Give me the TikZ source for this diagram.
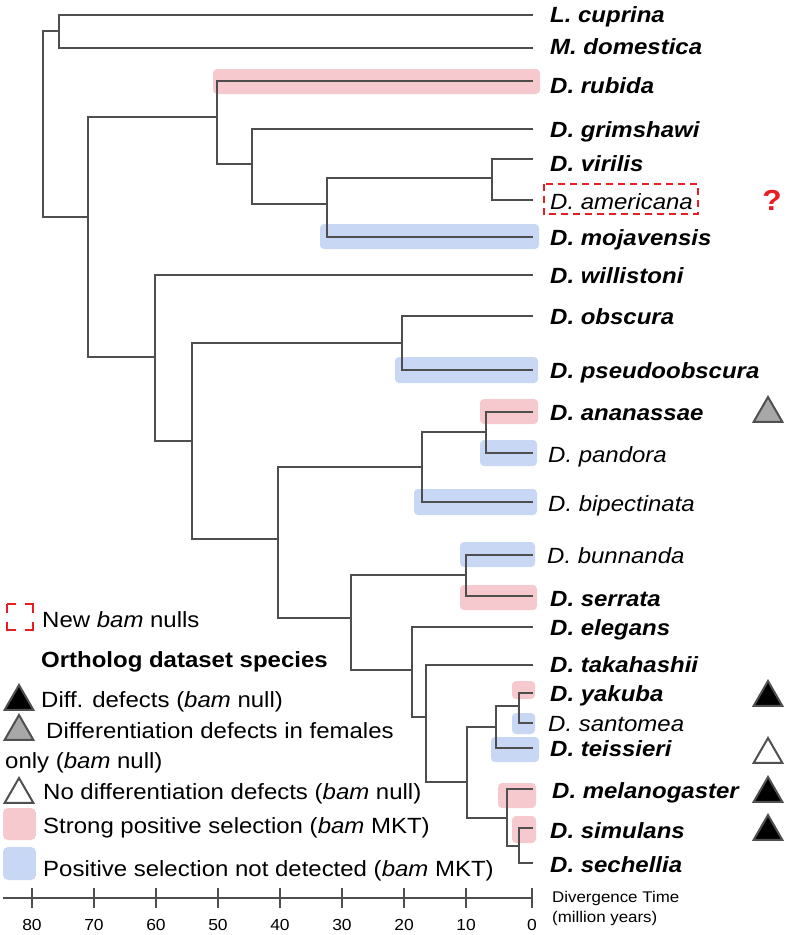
\documentclass[tikz,border=0pt]{standalone}
\usepackage{fontspec}
\setmainfont[FakeStretch=1.09]{Liberation Sans}
\usepackage{xcolor}
\usepackage{tikz}
\usetikzlibrary{shapes.geometric, positioning, calc}
\definecolor{branchgray}{RGB}{78, 78, 78}
\definecolor{strongpink}{RGB}{245, 201, 205}
\definecolor{nodetblue}{RGB}{200, 216, 244}
\definecolor{nullred}{RGB}{232, 30, 36}
\definecolor{trigray}{RGB}{168, 168, 168}
\definecolor{triedge}{RGB}{80, 80, 80}

\begin{document}
\begin{tikzpicture}[
    x=1pt, y=-1pt,
    branch/.style={draw=branchgray, line width=2.8pt},
    axisline/.style={draw=branchgray, line width=2.2pt},
    sp/.style={anchor=base west, inner sep=0pt,
               font=\fontsize{22}{24}\selectfont\bfseries\itshape},
    spr/.style={anchor=base west, inner sep=0pt,
                font=\fontsize{22}{24}\selectfont\itshape},
    legend/.style={anchor=base west, inner sep=0pt,
                   font=\fontsize{22}{24}\selectfont},
    ticklab/.style={anchor=base, inner sep=0pt, font=\fontsize{16}{18}\selectfont},
    strong/.style={fill=strongpink, rounded corners=4pt},
    nodet/.style={fill=nodetblue, rounded corners=4pt},
    newnull/.style={draw=nullred, line width=2pt, dash pattern=on 7pt off 5pt},
    defect/.style={regular polygon, regular polygon sides=3, minimum size=33pt,
                   inner sep=0pt, draw=triedge, line width=2pt, fill=#1}
]
\useasboundingbox (0,0) rectangle (792,935);

% Selection highlights
\fill[strong] (213,69) rectangle (540,94);
\fill[nodet]  (320,224) rectangle (539,249);
\fill[nodet]  (395,357) rectangle (538,383);
\fill[strong] (480,399) rectangle (538,424);
\fill[nodet]  (480,440) rectangle (537,466);
\fill[nodet]  (414,489) rectangle (537,515);
\fill[nodet]  (460,542) rectangle (535,567);
\fill[strong] (460,585) rectangle (537,610);
\fill[strong] (512,681) rectangle (535,699);
\fill[nodet]  (512,713) rectangle (535,734);
\fill[nodet]  (491,737) rectangle (539,762);
\fill[strong] (498,783) rectangle (536,808);
\fill[strong] (512,816) rectangle (536,843);

% Tips
\coordinate (lcup) at (533,15);
\coordinate (mdom) at (533,48);
\coordinate (drub) at (533,81);
\coordinate (dgri) at (533,129);
\coordinate (dvir) at (533,159);
\coordinate (dame) at (533,200);
\coordinate (dmoj) at (533,237);
\coordinate (dwil) at (533,275);
\coordinate (dobs) at (533,316);
\coordinate (dpse) at (533,370);
\coordinate (dana) at (533,412);
\coordinate (dpan) at (533,453);
\coordinate (dbip) at (533,502);
\coordinate (dbun) at (533,555);
\coordinate (dser) at (533,596);
\coordinate (dele) at (533,627);
\coordinate (dtak) at (533,665);
\coordinate (dyak) at (533,693);
\coordinate (dsan) at (533,723);
\coordinate (dtei) at (533,748);
\coordinate (dmel) at (533,789);
\coordinate (dsim) at (533,828);
\coordinate (dsec) at (533,863);

% Internal nodes
\coordinate (root)  at (43,124);
\coordinate (nLM)   at (59,31);
\coordinate (nDros) at (88,217);
\coordinate (nRub)  at (217,117);
\coordinate (nGri)  at (252,164);
\coordinate (nMoj)  at (327,204);
\coordinate (nVir)  at (492,178);
\coordinate (nWil)  at (155,357);
\coordinate (nSoph) at (192,441);
\coordinate (nObs)  at (402,343);
\coordinate (nMel)  at (278,539);
\coordinate (nAna)  at (422,467);
\coordinate (nPan)  at (486,432);
\coordinate (nMon)  at (351,618);
\coordinate (nSer)  at (466,575);
\coordinate (nEle)  at (412,670);
\coordinate (nTak)  at (426,717);
\coordinate (nSub)  at (467,782);
\coordinate (nTei)  at (496,727);
\coordinate (nYak)  at (519,706);
\coordinate (nSim)  at (507,818);
\coordinate (nSec)  at (519,846);

% Branches
\draw[branch] (root) |- (nLM) (root) |- (nDros);
\draw[branch] (nLM) |- (lcup) (nLM) |- (mdom);
\draw[branch] (nDros) |- (nRub) (nDros) |- (nWil);
\draw[branch] (nRub) |- (drub) (nRub) |- (nGri);
\draw[branch] (nGri) |- (dgri) (nGri) |- (nMoj);
\draw[branch] (nMoj) |- (nVir) (nMoj) |- (dmoj);
\draw[branch] (nVir) |- (dvir) (nVir) |- (dame);
\draw[branch] (nWil) |- (dwil) (nWil) |- (nSoph);
\draw[branch] (nSoph) |- (nObs) (nSoph) |- (nMel);
\draw[branch] (nObs) |- (dobs) (nObs) |- (dpse);
\draw[branch] (nMel) |- (nAna) (nMel) |- (nMon);
\draw[branch] (nAna) |- (nPan) (nAna) |- (dbip);
\draw[branch] (nPan) |- (dana) (nPan) |- (dpan);
\draw[branch] (nMon) |- (nSer) (nMon) |- (nEle);
\draw[branch] (nSer) |- (dbun) (nSer) |- (dser);
\draw[branch] (nEle) |- (dele) (nEle) |- (nTak);
\draw[branch] (nTak) |- (dtak) (nTak) |- (nSub);
\draw[branch] (nSub) |- (nTei) (nSub) |- (nSim);
\draw[branch] (nTei) |- (nYak) (nTei) |- (dtei);
\draw[branch] (nYak) |- (dyak) (nYak) |- (dsan);
\draw[branch] (nSim) |- (dmel) (nSim) |- (nSec);
\draw[branch] (nSec) |- (dsim) (nSec) |- (dsec);

% Species names
\node[sp]  (tcup) at (550,22)  {L. cuprina};
\node[sp]  (tdom) at (550,54)  {M. domestica};
\node[sp]  (trub) at (550,93)  {D. rubida};
\node[sp]  (tgri) at (550,137) {D. grimshawi};
\node[sp]  (tvir) at (550,171) {D. virilis};
\node[spr] (tame) at (550,209) {D. americana};
\node[sp]  (tmoj) at (550,245) {D. mojavensis};
\node[sp]  (twil) at (550,283) {D. willistoni};
\node[sp]  (tobs) at (550,324) {D. obscura};
\node[sp]  (tpse) at (550,378) {D. pseudoobscura};
\node[sp]  (tana) at (550,420) {D. ananassae};
\node[spr] (tpan) at (548,462) {D. pandora};
\node[spr] (tbip) at (548,511) {D. bipectinata};
\node[spr] (tbun) at (547,563) {D. bunnanda};
\node[sp]  (tser) at (550,606) {D. serrata};
\node[sp]  (tele) at (550,635) {D. elegans};
\node[sp]  (ttak) at (550,672) {D. takahashii};
\node[sp]  (tyak) at (550,701) {D. yakuba};
\node[spr] (tsan) at (548,731) {D. santomea};
\node[sp]  (ttei) at (550,756) {D. teissieri};
\node[sp]  (tmel) at (552,798) {D. melanogaster};
\node[sp]  (tsim) at (550,838) {D. simulans};
\node[sp]  (tsec) at (550,872) {D. sechellia};

% New bam null
\draw[newnull] ($(tame.north west)+(-6,-9)$) rectangle ($(tame.south east)+(5,5)$);
\node[anchor=base, inner sep=0pt, text=nullred,
      font=\fontsize{29}{30}\selectfont\bfseries] (qame) at (772,210) {?};

% Differentiation defects
\node[defect=trigray] (gana) at (768,413.5) {};
\node[defect=black]   (gyak) at (768,697.5) {};
\node[defect=white]   (gtei) at (768,754.5) {};
\node[defect=black]   (gmel) at (768,793.5) {};
\node[defect=black]   (gsim) at (768,831.5) {};

% Legend
\draw[newnull, dash pattern=on 17pt off 9pt, dash phase=8.5pt] (7,604) rectangle (33,630);
\node[legend] (lnull) at (42,627) {New \textit{bam} nulls};
\node[legend] (lorth) at (41,667) {\textbf{Ortholog dataset species}};
\node[defect=black]   (kdiff) at (19,701.5) {};
\node[legend] (ldiff) at (41,707) {Diff. defects (\textit{bam} null)};
\node[defect=trigray] (kfem) at (19,731.5) {};
\node[legend] (lfem)  at (46,738) {Differentiation defects in females};
\node[legend] (lfem2) at (5,768)  {only (\textit{bam} null)};
\node[defect=white]   (knone) at (19,794.5) {};
\node[legend] (lnone) at (43,799) {No differentiation defects (\textit{bam} null)};
\fill[strong, rounded corners=5pt] (3,808) rectangle (36,840);
\node[legend] (lstr)  at (43,833) {Strong positive selection (\textit{bam} MKT)};
\fill[nodet, rounded corners=5pt] (3,847) rectangle (36,880);
\node[legend] (lnot)  at (43,876) {Positive selection not detected (\textit{bam} MKT)};

% Time axis
\coordinate (axl) at (3,898);
\coordinate (axr) at (533,898);
\draw[axisline] (axl) -- (axr);
\draw[axisline] (32,888) -- (32,908);   \node[ticklab] (a80) at (32,930) {80};
\draw[axisline] (94,888) -- (94,908);   \node[ticklab] (a70) at (94,930) {70};
\draw[axisline] (156,888) -- (156,908); \node[ticklab] (a60) at (156,930) {60};
\draw[axisline] (218,888) -- (218,908); \node[ticklab] (a50) at (218,930) {50};
\draw[axisline] (280,888) -- (280,908); \node[ticklab] (a40) at (280,930) {40};
\draw[axisline] (342,888) -- (342,908); \node[ticklab] (a30) at (342,930) {30};
\draw[axisline] (404,888) -- (404,908); \node[ticklab] (a20) at (404,930) {20};
\draw[axisline] (466,888) -- (466,908); \node[ticklab] (a10) at (466,930) {10};
\draw[axisline] (532,888) -- (532,908); \node[ticklab] (a0)  at (532,930) {0};
\node[anchor=base west, inner sep=0pt, font=\fontsize{15.5}{17}\selectfont]
    (ldiv) at (552,902) {Divergence Time};
\node[anchor=base west, inner sep=0pt, font=\fontsize{15.5}{17}\selectfont]
    (lmya) at (552,922) {(million years)};

\end{tikzpicture}
\end{document}
